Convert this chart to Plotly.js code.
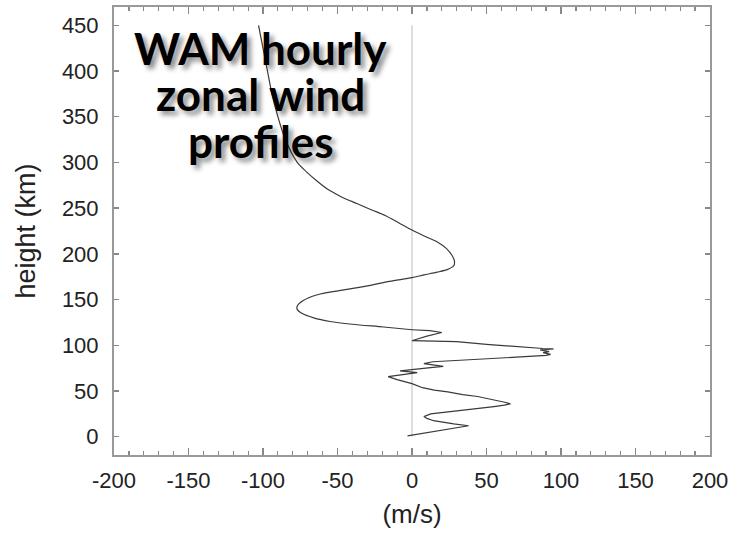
<!DOCTYPE html>
<html>
<head>
<meta charset="utf-8">
<script src="https://cdn.plot.ly/plotly-3.0.1.min.js"></script>
<style>
html,body{margin:0;padding:0;background:#fff;}
#chart{width:734px;height:534px;}
</style>
</head>
<body>
<div id="chart"></div>
<script>
// Upper (smooth) part of the zonal wind profile: wind (m/s) vs height (km)
const upperWind = [
  -103, -100, -97, -94, -90, -85, -77, -71, -64, -56, -47, -37, -27, -18, -9, 0, 9, 17, 23, 27, 28.5, 28, 24, 17, 8, 0,
  -15, -30, -48, -64, -73, -77, -77, -74, -66, -55, -40, -19, 0
];
const upperHeight = [
  450, 425, 400, 375, 350, 325, 300, 290, 280, 270, 262, 255, 248, 242, 234, 226, 219, 213, 206, 198, 192, 187, 183, 180, 177, 174,
  170, 165, 160, 155, 149, 143, 139, 135, 130, 126, 123, 120, 117
];
// Lower (jagged) part of the profile
const lowerWind = [
  0, 12, 20, 17, 10, 2, 0, 15, 30, 50, 68, 80, 88, 95, 86, 92, 88, 93, 90, 70, 46, 25, 14, 8, 14, 21, 12.5, 3, -3, -8, 3.5, -6, -16, -10, -4, 0,
  7, 15, 24, 34, 44, 54, 61.5, 66, 62, 55, 44, 32.6, 20, 12.5, 8, 10, 14.5, 20, 28, 38, 34, 30.5, 22, 14.5, 5, -3
];
const lowerHeight = [
  117, 116, 114, 113, 110, 106, 105, 104.5, 104, 101, 98.5, 97, 96.5, 96, 95, 93, 92, 90, 89, 87, 85, 83, 82, 80, 79, 77, 75.6, 74, 73.5, 72, 70, 68, 65.7, 62.5, 60, 58,
  53.6, 51, 49, 46, 44, 41, 38, 36, 34.5, 33, 31, 28.5, 26, 25, 22, 20, 17.5, 16, 14, 12, 11, 10, 8, 5.5, 3, 1
];
// reference line at zero wind
const zeroLineX = [0, 0];
const zeroLineY = [0, 450];

const xTicks = [-200, -150, -100, -50, 0, 50, 100, 150, 200];
const yTicks = [0, 50, 100, 150, 200, 250, 300, 350, 400, 450];
const titleLines = ["WAM hourly", "zonal wind", "profiles"];

const curveLine = {color: '#3a3a3a', width: 1.2};
const traces = [
  {x: zeroLineX, y: zeroLineY, mode: 'lines', line: {color: '#bdbdbd', width: 1}, hoverinfo: 'skip'},
  {x: upperWind, y: upperHeight, mode: 'lines', line: Object.assign({shape: 'spline', smoothing: 0.8}, curveLine)},
  {x: lowerWind, y: lowerHeight, mode: 'lines', line: curveLine}
];

const titleY = [0.908, 0.806, 0.700];
const annotations = titleLines.map((t, i) => ({
  text: t, xref: 'paper', yref: 'paper', x: 0.246, y: titleY[i],
  xanchor: 'center', yanchor: 'middle', showarrow: false,
  font: {family: 'Lato', size: 44, color: '#000', weight: 700, shadow: '4px 4px 5px rgba(0,0,0,0.45)'}
}));

const tickFont = {family: 'Liberation Sans, Arial, sans-serif', size: 22, color: '#222'};
const layout = {
  width: 734, height: 534,
  margin: {l: 114, r: 24, t: 7, b: 79},
  paper_bgcolor: '#fff', plot_bgcolor: '#fff',
  showlegend: false,
  xaxis: {
    range: [-200, 200], tickvals: xTicks, ticktext: xTicks.map(String),
    ticks: 'inside', ticklen: 7, tickwidth: 1.5, tickcolor: '#888',
    minor: {dtick: 10, tick0: 0, ticks: 'inside', ticklen: 4, tickwidth: 1.2, tickcolor: '#888', showgrid: false},
    showline: true, linecolor: '#999', linewidth: 2, mirror: 'allticks',
    showgrid: false, zeroline: false, tickfont: tickFont, ticklabelstandoff: 5,
    title: {text: '(m/s)', font: {family: 'Liberation Sans, Arial, sans-serif', size: 26, color: '#222'}, standoff: 12}
  },
  yaxis: {
    range: [-20, 470], tickvals: yTicks, ticktext: yTicks.map(String),
    ticks: 'inside', ticklen: 5, tickwidth: 1.5, tickcolor: '#888',
    showline: true, linecolor: '#999', linewidth: 2, mirror: 'allticks',
    showgrid: false, zeroline: false, tickfont: tickFont, ticklabelstandoff: 9,
    title: {text: 'height (km)', font: {family: 'Liberation Sans, Arial, sans-serif', size: 27, color: '#222'}, standoff: 18}
  },
  annotations: annotations
};

Plotly.newPlot('chart', traces, layout, {displayModeBar: false, staticPlot: true});
</script>
</body>
</html>
